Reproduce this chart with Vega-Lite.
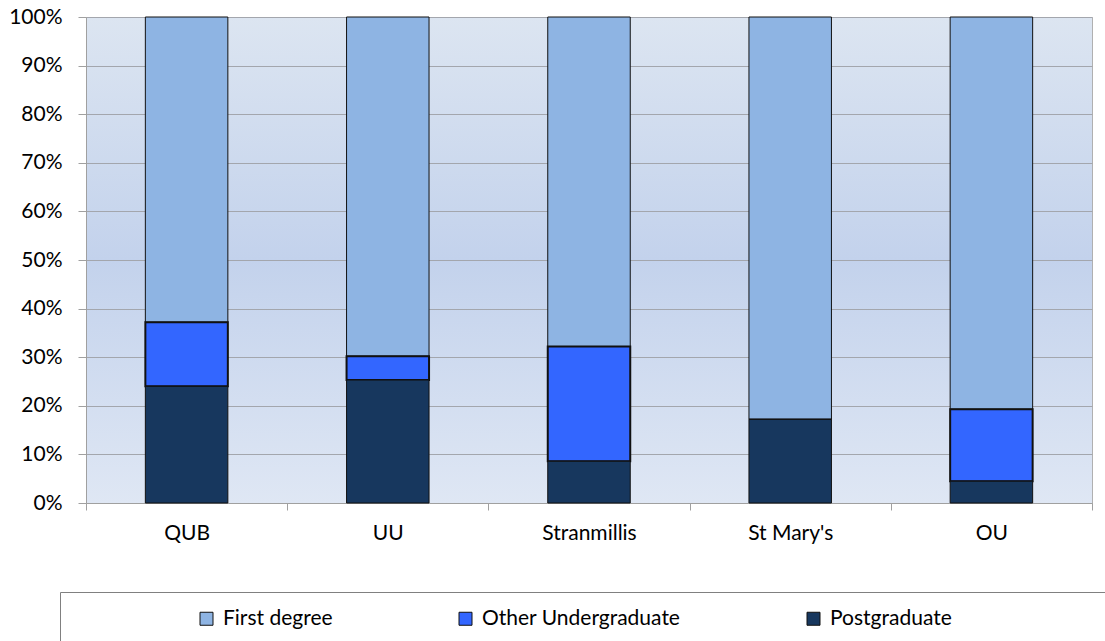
{
  "$schema": "https://vega.github.io/schema/vega-lite/v6.json",
  "width": 1006,
  "height": 486,
  "autosize": {"type": "none"},
  "padding": {"left": 86, "top": 17, "right": 13, "bottom": 138},
  "background": "white",
  "config": {
    "font": "Lato",
    "view": {"stroke": "#b0b0b0", "strokeWidth": 1}
  },
  "view": {
    "stroke": "#b0b0b0",
    "fill": {
      "gradient": "linear",
      "x1": 0, "y1": 0, "x2": 0, "y2": 1,
      "stops": [
        {"offset": 0, "color": "#dce5f1"},
        {"offset": 0.5, "color": "#c3d2ec"},
        {"offset": 1, "color": "#dfe7f4"}
      ]
    }
  },
  "data": {
    "values": [
      {"institution": "QUB", "series": "First degree", "value": 62.8},
      {"institution": "QUB", "series": "Other Undergraduate", "value": 13.2},
      {"institution": "QUB", "series": "Postgraduate", "value": 24.0},
      {"institution": "UU", "series": "First degree", "value": 69.8},
      {"institution": "UU", "series": "Other Undergraduate", "value": 4.9},
      {"institution": "UU", "series": "Postgraduate", "value": 25.3},
      {"institution": "Stranmillis", "series": "First degree", "value": 67.8},
      {"institution": "Stranmillis", "series": "Other Undergraduate", "value": 23.6},
      {"institution": "Stranmillis", "series": "Postgraduate", "value": 8.6},
      {"institution": "St Mary's", "series": "First degree", "value": 82.8},
      {"institution": "St Mary's", "series": "Other Undergraduate", "value": 0},
      {"institution": "St Mary's", "series": "Postgraduate", "value": 17.2},
      {"institution": "OU", "series": "First degree", "value": 80.7},
      {"institution": "OU", "series": "Other Undergraduate", "value": 14.8},
      {"institution": "OU", "series": "Postgraduate", "value": 4.5}
    ]
  },
  "mark": {"type": "bar", "width": {"band": 0.41}, "stroke": "#111111"},
  "encoding": {
    "x": {
      "field": "institution",
      "type": "nominal",
      "sort": ["QUB", "UU", "Stranmillis", "St Mary's", "OU"],
      "scale": {"paddingInner": 0, "paddingOuter": 0},
      "axis": {
        "title": null,
        "labelAngle": 0,
        "tickBand": "extent",
        "tickSize": 7,
        "tickColor": "#a0a0a0",
        "domainColor": "#a0a0a0",
        "labelFontSize": 21,
        "labelColor": "#000000",
        "labelPadding": 12
      }
    },
    "y": {
      "field": "value",
      "type": "quantitative",
      "stack": "zero",
      "scale": {"domain": [0, 100]},
      "axis": {
        "title": null,
        "values": [0, 10, 20, 30, 40, 50, 60, 70, 80, 90, 100],
        "labelExpr": "datum.value + '%'",
        "tickSize": 8,
        "tickColor": "#a0a0a0",
        "domainColor": "#a0a0a0",
        "gridColor": "#a3a6ad",
        "grid": true,
        "labelFontSize": 21,
        "labelColor": "#000000",
        "labelPadding": 16
      }
    },
    "color": {
      "field": "series",
      "type": "nominal",
      "scale": {
        "domain": ["First degree", "Other Undergraduate", "Postgraduate"],
        "range": ["#8eb4e3", "#3366ff", "#17375e"]
      },
      "legend": {
        "orient": "none",
        "legendX": -26,
        "legendY": 575,
        "direction": "horizontal",
        "columns": 3,
        "columnPadding": 122,
        "symbolType": "square",
        "symbolSize": 169,
        "symbolStrokeColor": "#111111",
        "symbolStrokeWidth": 1,
        "symbolOpacity": 1,
        "labelFontSize": 21,
        "labelColor": "#000000",
        "labelOffset": 6,
        "labelLimit": 600,
        "labelExpr": "datum.label == 'Postgraduate' ? datum.label + '\u2800\u2800\u2800\u2800\u2800\u2800\u2800\u2800\u2800\u2800' : datum.label",
        "title": "\u2800\u2800\u2800\u2800\u2800\u2800\u2800\u2800",
        "titleOrient": "left",
        "titlePadding": 0,
        "titleFontSize": 20,
        "strokeColor": "#808080",
        "padding": 16
      }
    },
    "order": {"field": "series", "sort": "descending"},
    "strokeWidth": {
      "condition": {"test": "datum.series === 'Other Undergraduate'", "value": 2},
      "value": 1
    }
  }
}
